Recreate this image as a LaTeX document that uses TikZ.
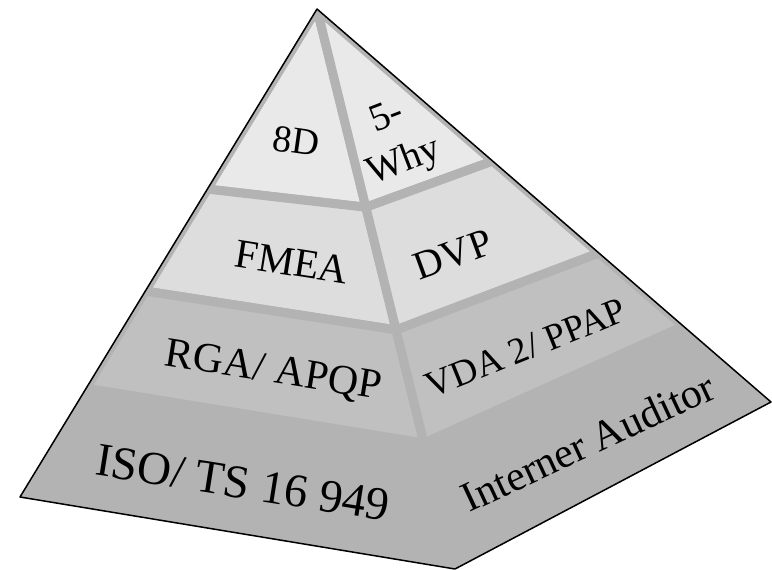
\documentclass[tikz,border=0pt]{standalone}
\usepackage{fontspec}
\setmainfont{Liberation Serif}
\usetikzlibrary{calc}
\newcommand\pyrfs[2]{\fontsize{#1}{#2}\selectfont}
\definecolor{pyrbase}{HTML}{B3B3B3}
\definecolor{layerA}{HTML}{E9E9E9}
\definecolor{layerB}{HTML}{DDDDDD}
\definecolor{layerC}{HTML}{C0C0C0}
\tikzset{
  face/.style={draw=pyrbase, line width=9pt, line join=round},
  lbl/.style={inner sep=0pt, text=black},
}
\begin{document}
\begin{tikzpicture}[x=1pt,y=-1pt]
\useasboundingbox (0,0) rectangle (772,570);
% pyramid corners
\coordinate (A) at (317,9);
\coordinate (L) at (20,497);
\coordinate (F) at (455,569);
\coordinate (R) at (771,402);
% layer boundaries on left edge, ridge, right edge
\coordinate (L1) at ($(A)!0.369!(L)$);
\coordinate (L2) at ($(A)!0.578!(L)$);
\coordinate (L3) at ($(A)!0.777!(L)$);
\coordinate (F1) at ($(A)!0.354!(F)$);
\coordinate (F2) at ($(A)!0.573!(F)$);
\coordinate (F3) at ($(A)!0.775!(F)$);
\coordinate (R1) at ($(A)!0.387!(R)$);
\coordinate (R2) at ($(A)!0.621!(R)$);
\coordinate (R3) at ($(A)!0.807!(R)$);
\begin{scope}
  \clip (A) -- (L) -- (F) -- (R) -- cycle;
  \fill[pyrbase] (A) -- (L) -- (F) -- (R) -- cycle;
  % layer 1
  \filldraw[face, fill=layerA] (A) -- (L1) -- (F1) -- cycle;
  \filldraw[face, fill=layerA] (A) -- (F1) -- (R1) -- cycle;
  % layer 2
  \filldraw[face, fill=layerB] (L1) -- (L2) -- (F2) -- (F1) -- cycle;
  \filldraw[face, fill=layerB] (F1) -- (F2) -- (R2) -- (R1) -- cycle;
  % layer 3
  \filldraw[face, fill=layerC] (L2) -- (L3) -- (F3) -- (F2) -- cycle;
  \filldraw[face, fill=layerC] (F2) -- (F3) -- (R3) -- (R2) -- cycle;
\end{scope}
\draw[black, line width=1.5pt, line join=round] (A) -- (L) -- (F) -- (R) -- cycle;
% labels
\node[lbl, rotate=-8, font=\pyrfs{38}{44}] (t8d) at (296,141) {8D};
\node[lbl, rotate=21, align=center, font=\pyrfs{39}{48}] (t5why) at (396,141) {5-\\Why};
\node[lbl, rotate=-9, font=\pyrfs{41}{48}] (tfmea) at (292,262) {FMEA};
\node[lbl, rotate=20, font=\pyrfs{40}{46}] (tdvp) at (453,255) {DVP};
\node[lbl, rotate=-9, font=\pyrfs{42}{50}] (trga) at (273,372) {RGA/ APQP};
\node[lbl, rotate=22, font=\pyrfs{37}{44}] (tvda) at (526,348) {VDA 2/ PPAP};
\node[lbl, rotate=25, font=\pyrfs{42}{50}] (tint) at (588,442) {Interner Auditor};
\node[lbl, rotate=-9, font=\pyrfs{47}{56}] (tiso) at (243,483) {ISO/ TS 16 949};
\end{tikzpicture}
\end{document}
